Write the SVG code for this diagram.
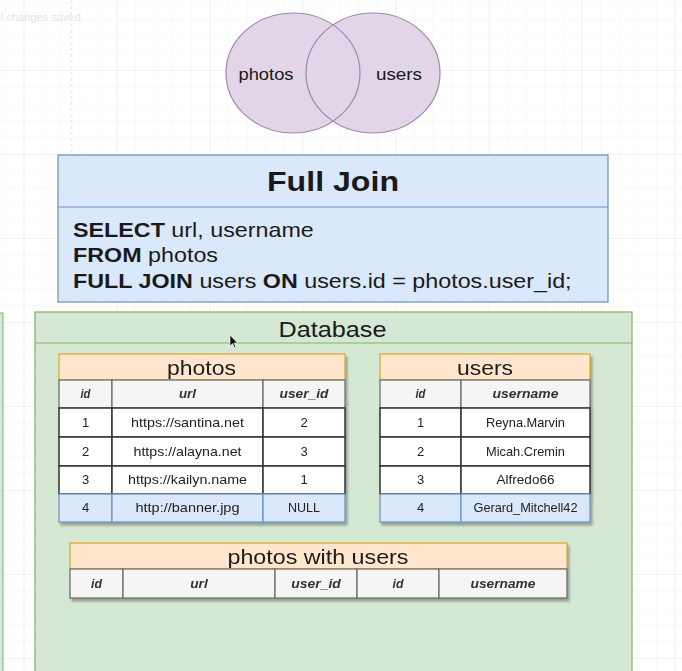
<svg xmlns="http://www.w3.org/2000/svg" width="682" height="671" viewBox="0 0 682 671">
<defs>
<pattern id="minor" x="23.5" y="70" width="18.6" height="16.8" patternUnits="userSpaceOnUse">
<path d="M0 0V16.8M0 0H18.6" fill="none" stroke="#f4f4f4" stroke-width="1"/>
</pattern>
<pattern id="major" x="23.5" y="70" width="93" height="84" patternUnits="userSpaceOnUse">
<path d="M0 0V84M0 0H93" fill="none" stroke="#e9e9e9" stroke-width="1"/>
</pattern>
<filter id="sh" x="-5%" y="-5%" width="115%" height="120%">
<feDropShadow dx="2" dy="3" stdDeviation="1.2" flood-color="#000" flood-opacity="0.3"/>
</filter>
</defs>
<style>
text{font-family:"Liberation Sans",Arial,sans-serif;fill:#1a1a1a}
.venn{fill:#e1d5e7}
.vline{fill:none;stroke:#9d89a8;stroke-width:1.2}
.tblhead{fill:#ffe6cc;stroke:#d79b00;stroke-width:1}
.colhead{fill:#f5f5f5;stroke:#666;stroke-width:1.2}
.row{fill:#fff;stroke:#333;stroke-width:1.5}
.blue{fill:#dae8fc;stroke:#6c8ebf;stroke-width:1.2}
.ht{font-size:21px;text-anchor:middle}
.ch{font-size:12px;font-weight:bold;font-style:italic;text-anchor:middle;fill:#333}
.d{font-size:13px;text-anchor:middle;fill:#222}
.sql{font-size:20px}
.b{font-weight:bold}
</style>
<rect width="682" height="671" fill="#fff"/>
<rect width="682" height="671" fill="url(#minor)"/>
<rect width="682" height="671" fill="url(#major)"/>
<line x1="71" y1="0" x2="71" y2="155" stroke="#e2e2e2" stroke-width="1" stroke-dasharray="3 3"/>
<text x="1" y="21" font-size="11" style="fill:#e4e4e4">l changes saved</text>

<g id="venn">
<ellipse class="venn" cx="293" cy="73" rx="67" ry="60"/>
<ellipse class="venn" cx="373" cy="73" rx="67" ry="60"/>
<ellipse class="vline" cx="293" cy="73" rx="67" ry="60"/>
<ellipse class="vline" cx="373" cy="73" rx="67" ry="60"/>
<text x="266" y="80" font-size="17" text-anchor="middle" textLength="55" lengthAdjust="spacingAndGlyphs">photos</text>
<text x="399" y="80" font-size="17" text-anchor="middle" textLength="46" lengthAdjust="spacingAndGlyphs">users</text>
</g>

<g id="fulljoin">
<rect x="58" y="155" width="550" height="147" fill="#dae8fc" stroke="#6c8ebf" stroke-width="1.2"/>
<line x1="58" y1="207" x2="608" y2="207" stroke="#6c8ebf" stroke-width="1.2"/>
<text x="333" y="191" font-size="28" font-weight="bold" text-anchor="middle" textLength="132" lengthAdjust="spacingAndGlyphs">Full Join</text>
<text class="sql" x="0" y="237" transform="translate(73,0) scale(1.165,1)"><tspan class="b">SELECT</tspan> url, username</text>
<text class="sql" x="0" y="262" transform="translate(73,0) scale(1.165,1)"><tspan class="b">FROM</tspan> photos</text>
<text class="sql" x="0" y="288" transform="translate(73,0) scale(1.165,1)"><tspan class="b">FULL JOIN</tspan> users <tspan class="b">ON</tspan> users.id = photos.user_id;</text>
</g>

<g id="leftedge">
<rect x="-10" y="313" width="13" height="370" fill="#d5e8d4" stroke="#82b366" stroke-width="1"/>
</g>

<g id="database">
<rect x="35" y="312" width="597" height="380" fill="#d5e8d4" stroke="#82b366" stroke-width="1.2"/>
<line x1="35" y1="343" x2="632" y2="343" stroke="#82b366" stroke-width="1.2"/>
<text x="332.5" y="337" font-size="22" text-anchor="middle" textLength="108" lengthAdjust="spacingAndGlyphs">Database</text>
</g>

<g id="photos" filter="url(#sh)">
<rect class="tblhead" x="59" y="354" width="286" height="26"/>
<text class="ht" x="201.5" y="375" textLength="69" lengthAdjust="spacingAndGlyphs">photos</text>
<rect class="colhead" x="59" y="380" width="53" height="28"/>
<rect class="colhead" x="112" y="380" width="151" height="28"/>
<rect class="colhead" x="263" y="380" width="82" height="28"/>
<text class="ch" x="85.5" y="398" textLength="10" lengthAdjust="spacingAndGlyphs">id</text>
<text class="ch" x="187.5" y="398" textLength="17" lengthAdjust="spacingAndGlyphs">url</text>
<text class="ch" x="304" y="398" textLength="49" lengthAdjust="spacingAndGlyphs">user_id</text>
<rect class="row" x="59" y="408" width="53" height="29"/>
<rect class="row" x="112" y="408" width="151" height="29"/>
<rect class="row" x="263" y="408" width="82" height="29"/>
<text class="d" x="85.5" y="427">1</text>
<text class="d" x="187.5" y="427" textLength="113" lengthAdjust="spacingAndGlyphs">https://santina.net</text>
<text class="d" x="304" y="427">2</text>
<rect class="row" x="59" y="437" width="53" height="29"/>
<rect class="row" x="112" y="437" width="151" height="29"/>
<rect class="row" x="263" y="437" width="82" height="29"/>
<text class="d" x="85.5" y="456">2</text>
<text class="d" x="187.5" y="456" textLength="108" lengthAdjust="spacingAndGlyphs">https://alayna.net</text>
<text class="d" x="304" y="456">3</text>
<rect class="row" x="59" y="466" width="53" height="28"/>
<rect class="row" x="112" y="466" width="151" height="28"/>
<rect class="row" x="263" y="466" width="82" height="28"/>
<text class="d" x="85.5" y="484">3</text>
<text class="d" x="187.5" y="484" textLength="119" lengthAdjust="spacingAndGlyphs">https://kailyn.name</text>
<text class="d" x="304" y="484">1</text>
<rect class="blue" x="59" y="494" width="53" height="28"/>
<rect class="blue" x="112" y="494" width="151" height="28"/>
<rect class="blue" x="263" y="494" width="82" height="28"/>
<text class="d" x="85.5" y="512">4</text>
<text class="d" x="187.5" y="512" textLength="104" lengthAdjust="spacingAndGlyphs">http://banner.jpg</text>
<text class="d" x="304" y="512" textLength="32" lengthAdjust="spacingAndGlyphs">NULL</text>
</g>

<g id="users" filter="url(#sh)">
<rect class="tblhead" x="380" y="354" width="210" height="26"/>
<text class="ht" x="485" y="375" textLength="56" lengthAdjust="spacingAndGlyphs">users</text>
<rect class="colhead" x="380" y="380" width="81" height="28"/>
<rect class="colhead" x="461" y="380" width="129" height="28"/>
<text class="ch" x="420.5" y="398" textLength="10" lengthAdjust="spacingAndGlyphs">id</text>
<text class="ch" x="525.5" y="398" textLength="66" lengthAdjust="spacingAndGlyphs">username</text>
<rect class="row" x="380" y="408" width="81" height="29"/>
<rect class="row" x="461" y="408" width="129" height="29"/>
<text class="d" x="420.5" y="427">1</text>
<text class="d" x="525.5" y="427" textLength="79" lengthAdjust="spacingAndGlyphs">Reyna.Marvin</text>
<rect class="row" x="380" y="437" width="81" height="29"/>
<rect class="row" x="461" y="437" width="129" height="29"/>
<text class="d" x="420.5" y="456">2</text>
<text class="d" x="525.5" y="456" textLength="79" lengthAdjust="spacingAndGlyphs">Micah.Cremin</text>
<rect class="row" x="380" y="466" width="81" height="28"/>
<rect class="row" x="461" y="466" width="129" height="28"/>
<text class="d" x="420.5" y="484">3</text>
<text class="d" x="525.5" y="484" textLength="58" lengthAdjust="spacingAndGlyphs">Alfredo66</text>
<rect class="blue" x="380" y="494" width="81" height="28"/>
<rect class="blue" x="461" y="494" width="129" height="28"/>
<text class="d" x="420.5" y="512">4</text>
<text class="d" x="525.5" y="512" textLength="104" lengthAdjust="spacingAndGlyphs">Gerard_Mitchell42</text>
</g>

<g id="photoswithusers" filter="url(#sh)">
<rect class="tblhead" x="70" y="543" width="497" height="26"/>
<text class="ht" x="318" y="564" textLength="181" lengthAdjust="spacingAndGlyphs">photos with users</text>
<rect class="colhead" x="70" y="569" width="53" height="29"/>
<rect class="colhead" x="123" y="569" width="152" height="29"/>
<rect class="colhead" x="275" y="569" width="82" height="29"/>
<rect class="colhead" x="357" y="569" width="82" height="29"/>
<rect class="colhead" x="439" y="569" width="128" height="29"/>
<text class="ch" x="96.5" y="588" textLength="11" lengthAdjust="spacingAndGlyphs">id</text>
<text class="ch" x="199" y="588" textLength="17.5" lengthAdjust="spacingAndGlyphs">url</text>
<text class="ch" x="316" y="588" textLength="49.5" lengthAdjust="spacingAndGlyphs">user_id</text>
<text class="ch" x="398" y="588" textLength="11" lengthAdjust="spacingAndGlyphs">id</text>
<text class="ch" x="503" y="588" textLength="65" lengthAdjust="spacingAndGlyphs">username</text>
</g>

<g id="connectors"></g>

<path d="M230 335 L230 346 L232.6 343.6 L234.4 347.6 L235.8 347 L234 343 L237.5 343 Z" fill="#111" stroke="#fff" stroke-width="0.6"/>
</svg>
